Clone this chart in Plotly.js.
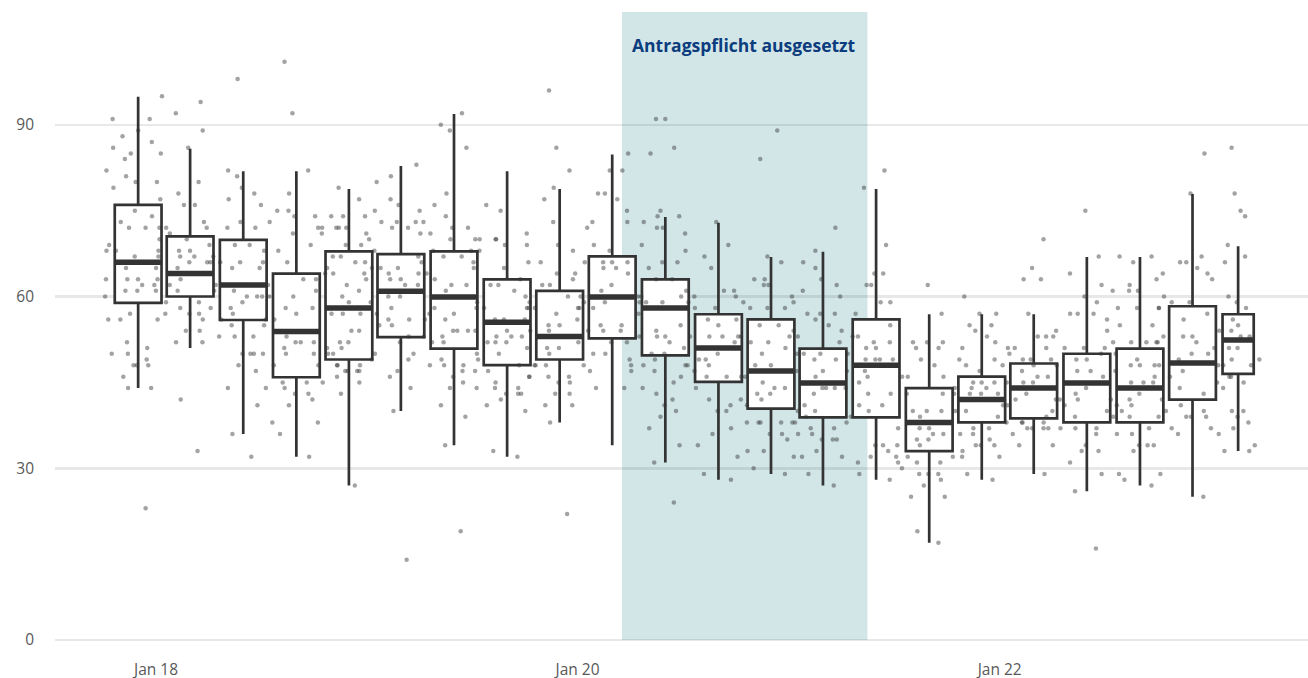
<!DOCTYPE html>
<html><head><meta charset="utf-8">
<script src="https://cdn.plot.ly/plotly-3.0.1.min.js"></script>
<style>html,body{margin:0;padding:0;background:#fff}#chart{width:1308px;height:678px}</style>
</head><body><div id="chart"></div>
<script>
// Period (box) centre dates and length of data coverage in days
const periods = ["2017-12-01","2018-03-01","2018-06-01","2018-09-01","2018-12-01","2019-03-01","2019-06-01","2019-09-01",
  "2019-12-01","2020-03-01","2020-06-01","2020-09-01","2020-12-01","2021-03-01","2021-06-01","2021-09-01",
  "2021-12-01","2022-03-01","2022-06-01","2022-09-01","2022-12-01","2023-02-18"];
const periodDays = [90,90,90,90,90,90,90,90,90,90,90,90,90,90,90,90,90,90,90,90,90,60];

// Box statistics per period
const lowerWhisker = [44.0,51.0,36.0,32.0,27.0,40.0,34.0,32.0,38.0,34.0,31.0,28.0,29.0,27.0,28.0,17.0,28.0,29.0,26.0,27.0,25.0,33.0];
const q1           = [58.9,60.0,55.9,45.9,49.0,52.9,50.9,48.0,49.0,52.7,49.7,45.1,40.4,38.9,38.9,33.0,38.0,38.7,38.0,38.0,42.0,46.5];
const median       = [66.0,64.0,62.0,53.9,58.0,60.9,59.9,55.5,53.0,59.9,58.0,51.0,47.0,44.9,48.0,38.0,42.0,44.0,44.9,44.0,48.4,52.4];
const q3           = [76.0,70.5,69.9,64.0,67.9,67.4,67.9,63.0,61.0,67.0,63.0,56.9,56.0,50.9,56.0,44.0,46.0,48.3,50.0,50.9,58.3,56.9];
const upperWhisker = [94.9,85.8,81.9,81.9,78.8,82.8,91.9,81.9,78.8,84.8,73.9,72.9,66.9,67.8,78.8,56.9,56.9,56.9,66.9,66.9,77.9,68.8];

// Individual observations per period
const pointValues = [
  [95,91,91,88,89,87,86,85,84,85,82,81,80,80,79,77,75,74,73,72,72,70,69,68,68,68,67,65,65,63,63,62,62,61,61,60,63,56,57,56,56,57,50,49,48,50,48,51,48,46,44,44,23,52],
  [94,92,89,86,78,76,80,72,72,72,71,70,69,68,68,67,67,67,66,66,65,63,63,62,61,62,61,61,59,58,59,57,57,54,54,52,52,42,33,73,76],
  [98,82,81,79,78,77,76,73,72,72,69,68,69,67,66,66,66,65,66,65,62,62,61,60,60,59,58,58,57,56,56,56,55,55,53,53,53,50,50,50,48,44,41,36,32],
  [101,92,82,78,75,72,74,73,68,71,69,66,75,74,63,63,62,61,60,60,60,58,58,57,56,53,52,52,52,51,50,50,48,47,45,45,45,44,44,43,43,42,41,38,38,36,32,50],
  [79,77,74,74,72,72,71,74,72,72,71,70,69,69,67,67,66,66,65,64,64,64,62,61,60,59,57,57,54,54,52,52,51,51,50,50,48,48,48,47,47,47,45,43,27,50,48,49,47,46],
  [83,81,80,75,75,73,73,73,72,71,72,73,77,76,68,67,65,65,65,64,64,63,63,63,62,62,60,60,59,58,58,57,57,56,56,56,55,55,52,53,49,47,46,44,40,14],
  [92,89,86,90,76,78,74,71,72,72,70,70,68,68,67,67,66,66,65,64,63,62,61,62,57,57,54,54,56,54,52,52,53,53,52,50,49,48,49,48,48,47,46,44,45,41,39,34,19],
  [76,75,71,70,70,70,68,66,69,69,65,63,62,62,61,60,59,58,58,58,56,56,56,54,53,53,53,52,52,50,50,54,48,47,47,44,43,43,43,42,41,40,44,46,45,44,32,33],
  [86,77,73,69,68,64,63,64,62,62,66,60,60,59,58,58,58,57,56,55,55,54,54,53,52,51,51,51,50,50,48,48,48,48,46,46,45,45,46,43,43,41,41,38,22,96,82,79],
  [82,82,78,77,75,73,72,73,68,66,66,66,66,65,65,64,62,61,59,59,59,58,58,57,55,55,54,54,54,52,52,50,47,47,44,44,85,78,69],
  [91,91,86,85,75,74,73,74,72,72,71,69,68,66,66,65,63,63,60,60,61,60,59,59,55,54,53,53,53,52,51,50,50,49,49,48,48,48,49,47,45,44,43,42,40,41,39,37,34,31,24],
  [69,67,65,61,60,59,58,61,60,58,73,56,56,55,53,53,53,52,50,49,48,48,48,47,46,46,46,46,44,42,40,40,37,36,34,32,29,28],
  [84,89,63,63,67,66,62,62,60,58,58,59,59,58,55,55,54,53,53,53,52,52,51,50,48,46,45,44,44,43,42,42,43,41,41,41,38,38,38,38,38,36,36,35,33,33,32,29,30],
  [68,62,60,63,66,72,65,61,57,57,57,56,55,54,53,52,50,50,49,49,50,47,47,46,44,44,44,43,40,40,38,38,39,39,37,37,36,35,35,36,35,33,32,32,29,27],
  [82,79,69,64,64,62,62,59,59,57,55,53,53,52,52,51,51,50,49,49,49,49,47,47,46,46,45,44,43,43,41,41,40,33,31,32,31,29,28,34,34],
  [62,57,52,52,52,51,48,46,43,43,40,40,49,51,40,39,46,37,37,37,36,36,35,35,34,34,32,32,32,32,31,31,30,29,29,29,28,27,25,25,19,17],
  [57,55,52,57,60,55,54,53,49,47,45,45,45,44,44,44,43,43,43,43,51,49,48,42,41,40,40,39,37,37,36,35,36,34,34,34,33,32,29,28],
  [63,63,70,65,57,53,53,51,51,51,50,49,49,49,48,48,47,46,46,45,45,45,43,42,42,41,40,38,38,38,38,37,37,37,37,36,34,34,29],
  [75,67,64,60,62,59,56,57,57,57,54,53,54,51,51,51,49,49,47,47,48,46,44,43,42,42,41,41,39,39,39,37,37,37,36,34,33,33,31,29,26,16],
  [67,62,61,67,61,66,63,61,58,58,58,58,55,55,52,52,52,52,52,50,50,49,48,48,48,47,45,45,45,43,42,42,41,40,40,40,39,39,36,37,36,34,34,34,33,29,29,28,27],
  [85,78,67,66,66,65,64,63,64,60,59,59,57,56,53,53,53,52,50,50,49,48,47,46,46,45,44,46,43,42,41,40,39,39,39,37,37,36,25],
  [86,78,75,74,69,67,66,60,58,59,56,55,54,54,53,53,51,51,51,49,49,45,44,48,48,46,48,40,40,39,38,37,36,34,33,33]
];

// Shaded period and axis ticks
const shadeStart = "2020-03-18";
const shadeEnd = "2021-05-17";
const shadeLabel = "Antragspflicht ausgesetzt";
const tickDates = ["2018-01-01","2020-01-01","2022-01-01"];
const tickLabels = ["Jan 18","Jan 20","Jan 22"];
const yTicks = [0,30,60,90];

const DAY = 86400000;
const Y_MIN = -1.75, Y_MAX = 109.7;
const boxTraces = [], medianTraces = [], pointTraces = [];

periods.forEach((p, i) => {
  boxTraces.push({
    type: 'box', x: [p],
    q1: [q1[i]], median: [median[i]], q3: [q3[i]],
    lowerfence: [lowerWhisker[i]], upperfence: [upperWhisker[i]],
    width: periodDays[i] * 0.9 * DAY, whiskerwidth: 0,
    fillcolor: '#ffffff', line: {color: '#333333', width: 2.7},
    boxpoints: false, showlegend: false, hoverinfo: 'skip'
  });
  medianTraces.push({
    type: 'box', x: [p],
    q1: [median[i]], median: [median[i]], q3: [median[i]],
    lowerfence: [median[i]], upperfence: [median[i]],
    width: periodDays[i] * 0.9 * DAY, whiskerwidth: 0,
    fillcolor: 'rgba(0,0,0,0)', line: {color: '#333333', width: 5.5},
    boxpoints: false, showlegend: false, hoverinfo: 'skip'
  });
  pointTraces.push({
    type: 'box', x: pointValues[i].map(() => p), y: pointValues[i],
    boxpoints: 'all', jitter: 1, pointpos: 0,
    width: periodDays[i] * 1.6 * DAY, whiskerwidth: 0,
    fillcolor: 'rgba(0,0,0,0)', line: {color: 'rgba(0,0,0,0)', width: 0},
    marker: {size: 4.5, color: 'rgba(50,50,50,0.45)'},
    showlegend: false, hoverinfo: 'y'
  });
});

const midShade = new Date((Date.parse(shadeStart) + Date.parse(shadeEnd)) / 2).toISOString().slice(0, 10);
const tickFont = {family: 'Open Sans, Lato, sans-serif', size: 15.5, color: '#595959'};

const layout = {
  width: 1308, height: 678,
  margin: {l: 55, r: 0, t: 12, b: 28},
  paper_bgcolor: '#ffffff', plot_bgcolor: 'rgba(0,0,0,0)',
  boxmode: 'overlay', showlegend: false,
  xaxis: {
    type: 'date', range: ['2017-07-10', '2023-06-19'],
    tickmode: 'array', tickvals: tickDates, ticktext: tickLabels,
    showgrid: false, zeroline: false, showline: false, ticks: '',
    tickfont: tickFont, ticklabelstandoff: 8
  },
  yaxis: {
    range: [Y_MIN, Y_MAX], tickmode: 'array', tickvals: yTicks,
    showgrid: true, gridcolor: 'rgba(0,0,0,0.09)', gridwidth: 2.5,
    zeroline: false, showline: false, ticks: '',
    tickfont: tickFont, ticklabelstandoff: 20
  },
  shapes: [{
    type: 'rect', xref: 'x', yref: 'y', x0: shadeStart, x1: shadeEnd, y0: 0, y1: Y_MAX,
    fillcolor: '#d2e6e8', line: {width: 0}, layer: 'below'
  }],
  annotations: [{
    xref: 'x', yref: 'paper', x: midShade, y: 0.948, xanchor: 'center', yanchor: 'middle',
    text: shadeLabel, showarrow: false,
    font: {family: 'Open Sans, sans-serif', size: 17.5, color: '#0b3c7d', weight: 'bold'}
  }]
};

Plotly.newPlot('chart', boxTraces.concat(medianTraces, pointTraces), layout, {displayModeBar: false, staticPlot: true});
</script>
</body></html>
